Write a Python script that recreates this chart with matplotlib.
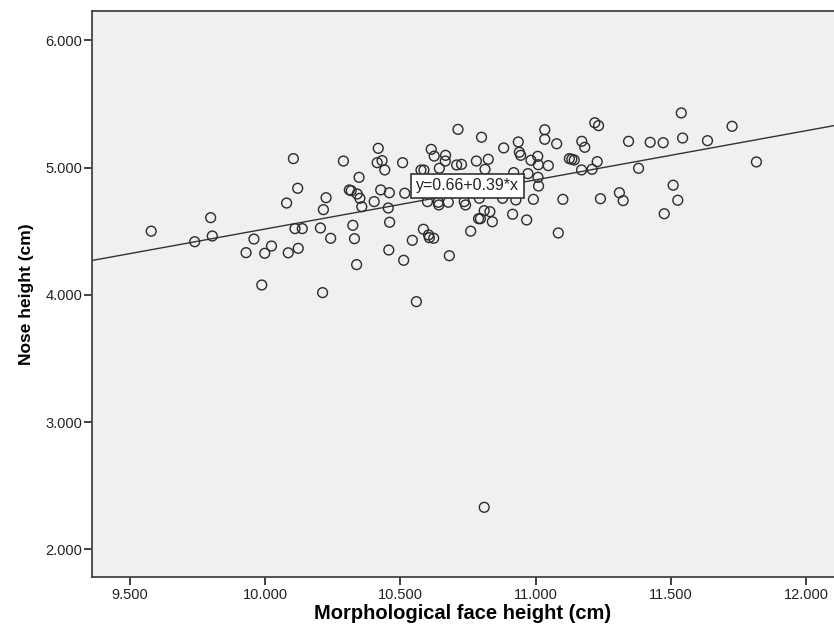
import numpy as np
import matplotlib
matplotlib.use("Agg")
import matplotlib.pyplot as plt
from matplotlib.ticker import FuncFormatter

plt.rcParams['font.family'] = ['Liberation Sans', 'DejaVu Sans']

# Morphological face height (cm) and nose height (cm)
face_height = [
    9.578, 9.739, 9.798, 9.804, 9.958, 10.023, 9.929, 9.998, 9.987, 10.079,
    10.085, 10.104, 10.120, 10.110, 10.137, 10.122, 10.225, 10.215, 10.204, 10.242,
    10.212, 10.289, 10.347, 10.311, 10.318, 10.340, 10.350, 10.357, 10.324, 10.330,
    10.338, 10.418, 10.414, 10.432, 10.442, 10.427, 10.403, 10.459, 10.455, 10.460,
    10.457, 10.508, 10.516, 10.512, 10.544, 10.585, 10.604, 10.607, 10.623, 10.559,
    10.681, 10.760, 10.614, 10.625, 10.667, 10.666, 10.713, 10.708, 10.726, 10.781,
    10.576, 10.587, 10.644, 10.600, 10.640, 10.642, 10.677, 10.736, 10.741, 10.789,
    10.800, 10.882, 10.936, 10.940, 10.945, 11.034, 11.034, 11.078, 10.983, 11.008,
    11.010, 11.047, 10.825, 10.813, 10.919, 10.972, 11.009, 11.011, 10.878, 10.927,
    10.992, 10.792, 10.810, 10.831, 10.796, 10.840, 10.915, 10.967, 11.084, 11.101,
    11.125, 11.134, 11.143, 11.171, 11.182, 11.228, 11.170, 11.209, 11.219, 11.233,
    11.240, 11.310, 11.324, 11.344, 11.381, 11.424, 11.472, 11.476, 11.539, 11.544,
    11.636, 11.727, 11.817, 11.509, 11.526, 10.810,
]
nose_height = [
    4.500, 4.417, 4.606, 4.462, 4.438, 4.383, 4.331, 4.326, 4.077, 4.721,
    4.330, 5.070, 4.837, 4.520, 4.520, 4.365, 4.763, 4.669, 4.525, 4.444,
    4.017, 5.051, 4.923, 4.824, 4.818, 4.792, 4.758, 4.692, 4.546, 4.441,
    4.237, 5.151, 5.038, 5.054, 4.981, 4.824, 4.732, 4.802, 4.682, 4.570,
    4.352, 5.038, 4.798, 4.271, 4.428, 4.515, 4.470, 4.449, 4.444, 3.946,
    4.307, 4.500, 5.143, 5.090, 5.096, 5.051, 5.300, 5.020, 5.025, 5.051,
    4.980, 4.980, 4.994, 4.732, 4.727, 4.706, 4.727, 4.732, 4.706, 4.598,
    5.238, 5.154, 5.201, 5.120, 5.096, 5.297, 5.222, 5.187, 5.057, 5.088,
    5.022, 5.015, 5.065, 4.986, 4.960, 4.952, 4.923, 4.855, 4.758, 4.745,
    4.750, 4.758, 4.661, 4.653, 4.598, 4.574, 4.633, 4.588, 4.486, 4.750,
    5.070, 5.065, 5.059, 5.206, 5.159, 5.046, 4.981, 4.986, 5.352, 5.329,
    4.755, 4.802, 4.740, 5.206, 4.994, 5.198, 5.195, 4.637, 5.429, 5.232,
    5.211, 5.324, 5.044, 4.861, 4.743, 2.330,
]

# fit line (as labelled: y=0.66+0.39*x)
fit_intercept = 0.657
fit_slope = 0.386
fit_label = "y=0.66+0.39*x"

x_ticks = [9.5, 10.0, 10.5, 11.0, 11.5, 12.0]
y_ticks = [2.0, 3.0, 4.0, 5.0, 6.0]

fig = plt.figure(figsize=(8.34, 6.37), dpi=100)
ax = fig.add_axes([92 / 834, 1 - 577.3 / 637, 1 - 92 / 834, (577.3 - 11) / 637])
ax.set_facecolor('#f0f0f0')

ax.set_xlim(9.359, 12.104)
ax.set_ylim(1.78, 6.23)

ax.scatter(face_height, nose_height, s=50, facecolors='none', edgecolors='#2b2b2b',
           linewidths=1.0, zorder=3)

xs = np.array(ax.get_xlim())
ax.plot(xs, fit_intercept + fit_slope * xs, color='#333333', lw=1.0, zorder=2)

ax.text(10.748, 4.855, fit_label, ha='center', va='center', fontsize=11.5,
        color='#222222', zorder=5,
        bbox=dict(boxstyle='square,pad=0.3', facecolor='white', edgecolor='#333333', lw=1.2))

ax.set_xticks(x_ticks)
ax.set_yticks(y_ticks)
fmt = FuncFormatter(lambda v, p: f"{v:.3f}")
ax.xaxis.set_major_formatter(fmt)
ax.yaxis.set_major_formatter(fmt)
ax.tick_params(direction='out', length=6, width=1.3, colors='#333333',
               labelsize=10.5, labelcolor='#222222')
ax.tick_params(axis='x', pad=2)
ax.tick_params(axis='y', pad=1)

for side in ['top', 'left', 'bottom']:
    ax.spines[side].set_color('#444444')
    ax.spines[side].set_linewidth(1.3)
ax.spines['right'].set_visible(False)

ax.set_xlabel("Morphological face height (cm)", fontsize=14.5, fontweight='bold', labelpad=1)
ax.set_ylabel("Nose height (cm)", fontsize=12.5, fontweight='bold', labelpad=8)

plt.savefig("out.png", dpi=100)
